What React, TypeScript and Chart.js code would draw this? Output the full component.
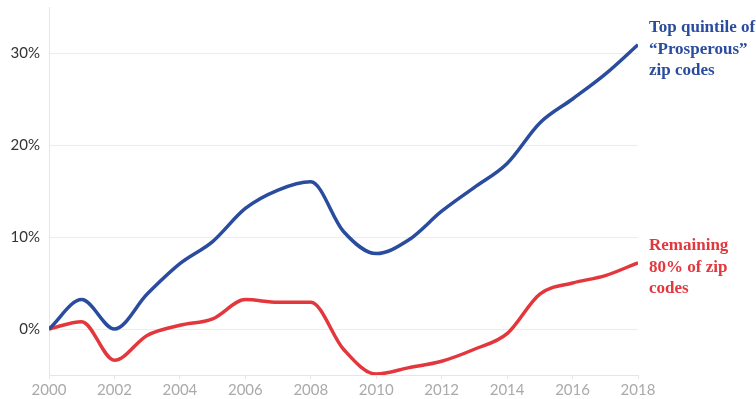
import React, { useEffect, useRef } from "react";
import { Chart, registerables } from "chart.js";

Chart.register(...registerables);

const years = [2000, 2001, 2002, 2003, 2004, 2005, 2006, 2007, 2008, 2009, 2010, 2011, 2012, 2013, 2014, 2015, 2016, 2017, 2018];
const topQuintile = [0, 3.2, 0, 3.8, 7.1, 9.5, 13.1, 15.1, 16.0, 10.6, 8.2, 9.7, 12.8, 15.4, 18.0, 22.4, 25.0, 27.7, 30.9];
const remaining = [0, 0.8, -3.4, -0.7, 0.4, 1.1, 3.2, 2.9, 2.9, -2.2, -4.9, -4.2, -3.5, -2.2, -0.5, 3.8, 5.0, 5.8, 7.2];
const yTicks = [0, 10, 20, 30];
const xTicks = [2000, 2002, 2004, 2006, 2008, 2010, 2012, 2014, 2016, 2018];
const topLabel = ["Top quintile of", "\u201cProsperous\u201d", "zip codes"];
const remLabel = ["Remaining", "80% of zip", "codes"];

const BLUE = "#2a4c9e";
const RED = "#e2373d";

const endLabels = {
  id: "endLabels",
  afterDatasetsDraw(chart: any) {
    const ctx = chart.ctx;
    const items = [
      { ds: 0, lines: topLabel, color: BLUE, weight: "bold" },
      { ds: 1, lines: remLabel, color: RED, weight: "bold" },
    ];
    ctx.save();
    for (const it of items) {
      const meta = chart.getDatasetMeta(it.ds);
      const pt = meta.data[meta.data.length - 1];
      const lh = 21.5;
      ctx.fillStyle = it.color;
      ctx.font = `${it.weight} 17px "Liberation Serif"`;
      ctx.textAlign = "left";
      ctx.textBaseline = "middle";
      const startY = pt.y - 17;
      it.lines.forEach((l: string, i: number) => ctx.fillText(l, pt.x + 11, startY + i * lh));
    }
    ctx.restore();
  },
};

export default function App() {
  const ref = useRef<HTMLCanvasElement>(null);
  useEffect(() => {
    document.body.style.margin = "0";
    const chart = new Chart(ref.current!, {
      type: "line",
      data: {
        datasets: [
          {
            data: years.map((y, i) => ({ x: y, y: topQuintile[i] })),
            borderColor: BLUE,
            borderWidth: 3.5,
            pointRadius: 0,
            cubicInterpolationMode: "monotone",
            fill: false,
          },
          {
            data: years.map((y, i) => ({ x: y, y: remaining[i] })),
            borderColor: RED,
            borderWidth: 3.5,
            pointRadius: 0,
            cubicInterpolationMode: "monotone",
            fill: false,
          },
        ],
      },
      options: {
        animation: false,
        responsive: false,
        layout: { padding: { left: 0, right: 118, top: 7, bottom: 0 } },
        plugins: { legend: { display: false }, tooltip: { enabled: false } },
        scales: {
          x: {
            type: "linear",
            min: 2000,
            max: 2018,
            afterBuildTicks: (s: any) => { s.ticks = xTicks.map((v) => ({ value: v })); },
            afterFit: (s: any) => { s.height = 24; },
            grid: { drawOnChartArea: false, drawTicks: true, tickLength: 4, color: "#e6e6e6" },
            border: { color: "#e6e6e6", width: 1 },
            ticks: {
              color: "#aaaaaa",
              font: { family: "Lato", size: 15 },
              padding: 2,
              maxRotation: 0,
              callback: (v: any) => String(v),
            },
          },
          y: {
            min: -5,
            max: 35,
            afterBuildTicks: (s: any) => { s.ticks = yTicks.map((v) => ({ value: v })); },
            afterFit: (s: any) => { s.width = 49; s.paddingTop = 0; s.paddingBottom = 0; },
            grid: { color: "#ececec", drawTicks: false },
            border: { color: "#e6e6e6", width: 1 },
            ticks: {
              color: "#333333",
              font: { family: "Lato", size: 15 },
              padding: 9,
              callback: (v: any) => `${v}%`,
            },
          },
        },
      },
      plugins: [endLabels],
    });
    return () => chart.destroy();
  }, []);
  return (
    <div style={{ width: 756, height: 399, background: "#fff" }}>
      <canvas ref={ref} width={756} height={399} style={{ display: "block" }} />
    </div>
  );
}
